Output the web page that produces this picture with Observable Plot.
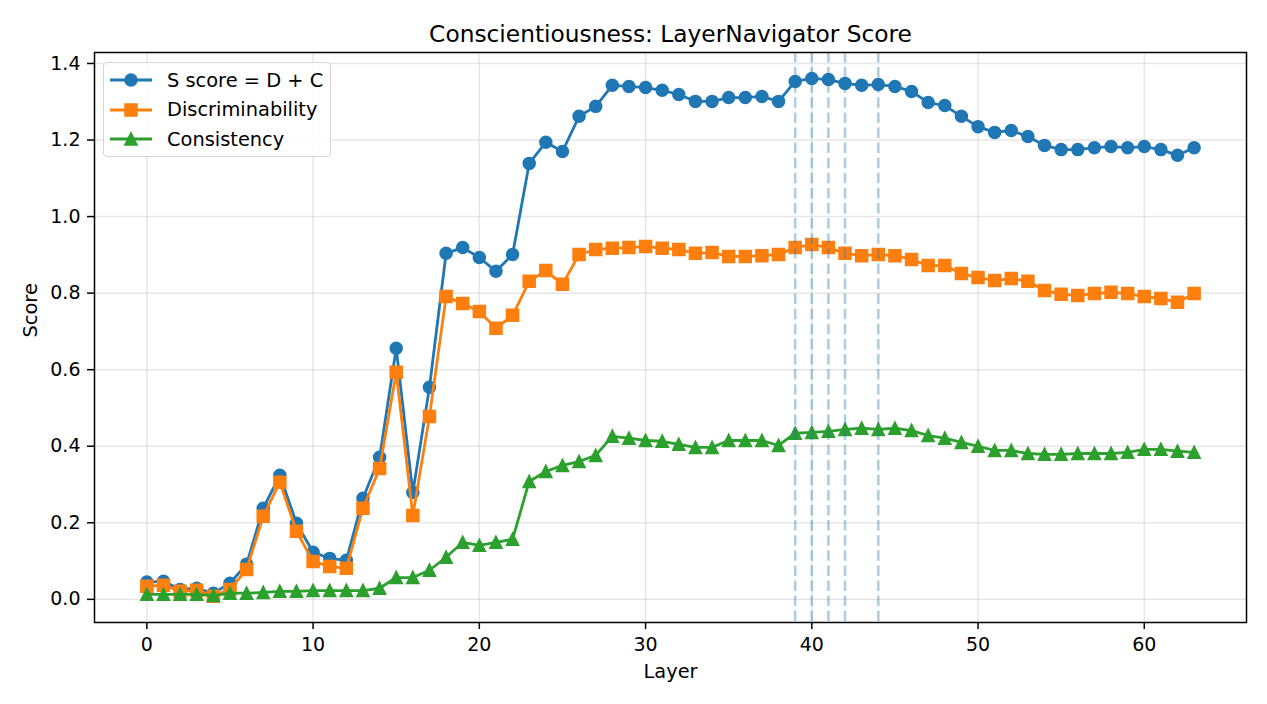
<!DOCTYPE html>
<html>
<head>
<meta charset="utf-8">
<script src="https://cdn.jsdelivr.net/npm/d3@7"></script>
<script src="https://cdn.jsdelivr.net/npm/@observablehq/plot@0.6"></script>
<style>
  html, body { margin: 0; padding: 0; background: #fff; }
  #wrap { position: relative; width: 1267px; height: 704px; font-family: "DejaVu Sans", sans-serif; }
  #legend { position: absolute; left: 103px; top: 62px; width: 228px; height: 95px; box-sizing: border-box;
    border: 1.3px solid #d6d6d6; border-radius: 4px; background: rgba(255,255,255,0.85); }
  .row { position: absolute; left: 0; height: 30px; display: flex; align-items: center; }
  .row svg { margin-left: 5px; }
  .row span { margin-left: 14px; font-size: 19.4px; color: #000; white-space: nowrap; }
</style>
</head>
<body>
<div id="wrap"></div>
<script>
const titleText = "Conscientiousness: LayerNavigator Score";
const xLabel = "Layer";
const yLabel = "Score";
const seriesNames = ["S score = D + C", "Discriminability", "Consistency"];
const seriesColors = ["#1f77b4", "#ff7f0e", "#2ca02c"];
const xTicks = [0, 10, 20, 30, 40, 50, 60];
const yTicks = [0, 0.2, 0.4, 0.6, 0.8, 1.0, 1.2, 1.4];
const highlightLayers = [39, 40, 41, 42, 44];

const layers = d3.range(64);
const sScore = [0.045,0.047,0.026,0.029,0.016,0.042,0.092,0.238,0.324,0.199,
  0.123,0.107,0.102,0.264,0.371,0.656,0.279,0.554,0.904,0.919,
  0.893,0.857,0.901,1.139,1.194,1.170,1.262,1.288,1.343,1.340,
  1.337,1.330,1.319,1.301,1.301,1.311,1.311,1.314,1.301,1.353,
  1.361,1.358,1.348,1.343,1.345,1.340,1.327,1.298,1.290,1.262,
  1.235,1.220,1.225,1.209,1.186,1.175,1.175,1.180,1.183,1.180,
  1.183,1.175,1.160,1.180];
const discr = [0.034,0.037,0.021,0.024,0.008,0.026,0.078,0.217,0.306,0.178,
  0.099,0.086,0.081,0.238,0.342,0.593,0.219,0.478,0.791,0.773,
  0.752,0.708,0.742,0.831,0.859,0.823,0.901,0.914,0.917,0.919,
  0.922,0.917,0.914,0.904,0.906,0.896,0.896,0.898,0.901,0.919,
  0.927,0.919,0.904,0.898,0.901,0.898,0.888,0.872,0.872,0.851,
  0.841,0.833,0.838,0.831,0.807,0.797,0.794,0.799,0.802,0.799,
  0.791,0.786,0.776,0.799];
const consist = [0.013,0.013,0.013,0.013,0.010,0.016,0.016,0.018,0.021,0.021,
  0.023,0.023,0.023,0.023,0.029,0.057,0.057,0.076,0.110,0.149,
  0.141,0.149,0.157,0.308,0.334,0.350,0.360,0.376,0.426,0.421,
  0.415,0.413,0.405,0.397,0.397,0.415,0.415,0.415,0.402,0.434,
  0.436,0.439,0.444,0.447,0.444,0.447,0.441,0.428,0.421,0.410,
  0.400,0.389,0.389,0.381,0.379,0.379,0.381,0.381,0.381,0.384,
  0.392,0.392,0.387,0.384];

// matplotlib-like symbols (size = pi r^2; half-extent = r)
const mplCircle = {draw(ctx, size) { const r = Math.sqrt(size / Math.PI); ctx.moveTo(r, 0); ctx.arc(0, 0, r, 0, 2 * Math.PI); }};
const mplSquare = {draw(ctx, size) { const r = Math.sqrt(size / Math.PI); ctx.rect(-r, -r, 2 * r, 2 * r); }};
const mplTriangle = {draw(ctx, size) { const r = Math.sqrt(size / Math.PI); ctx.moveTo(0, -r); ctx.lineTo(-r, r); ctx.lineTo(r, r); ctx.closePath(); }};
const seriesSymbols = [mplCircle, mplSquare, mplTriangle];
const markerR = 5.8;

const seriesValues = [sScore, discr, consist];
const seriesData = seriesValues.map((vals, i) => layers.map((l, j) => ({layer: l, value: vals[j], series: seriesNames[i]})));

const font = "DejaVu Sans";
const marks = [
  Plot.gridX(xTicks, {stroke: "#b0b0b0", strokeOpacity: 0.3, strokeWidth: 1.5}),
  Plot.gridY(yTicks, {stroke: "#b0b0b0", strokeOpacity: 0.3, strokeWidth: 1.5}),
];
seriesData.forEach((data, i) => {
  marks.push(Plot.line(data, {x: "layer", y: "value", stroke: seriesColors[i], strokeWidth: 2.8}));
  marks.push(Plot.dot(data, {x: "layer", y: "value", fill: seriesColors[i], stroke: seriesColors[i], strokeWidth: 1.9,
    symbol: seriesSymbols[i], r: markerR}));
});
marks.push(Plot.ruleX(highlightLayers, {stroke: "#1f77b4", strokeOpacity: 0.36, strokeWidth: 2.6, strokeDasharray: "10.5,4.6"}));
marks.push(Plot.frame({stroke: "#000", strokeWidth: 1.5}));
marks.push(Plot.axisX(xTicks, {tickSize: 7, tickPadding: 8, fontSize: 19, label: null, stroke: "#000", strokeWidth: 1.5}));
marks.push(Plot.axisY(yTicks, {tickSize: 7, tickPadding: 7, fontSize: 19, label: null, tickFormat: d3.format(".1f"), stroke: "#000", strokeWidth: 1.5}));
marks.push(Plot.text([titleText], {frameAnchor: "top", lineAnchor: "middle", dy: -18, fontSize: 23.3, fill: "#000"}));
marks.push(Plot.text([xLabel], {frameAnchor: "bottom", lineAnchor: "middle", dy: 49, fontSize: 19.4, fill: "#000"}));
marks.push(Plot.text([yLabel], {frameAnchor: "left", dx: -64, rotate: -90, fontSize: 19.4, fill: "#000"}));

const chart = Plot.plot({
  width: 1267,
  height: 704,
  marginLeft: 94,
  marginRight: 21,
  marginTop: 52,
  marginBottom: 82,
  style: {fontFamily: font, background: "#fff", color: "#000"},
  x: {domain: [-3.15, 66.15]},
  y: {domain: [-0.0605, 1.4287]},
  marks
});
const wrap = document.getElementById("wrap");
wrap.appendChild(chart);

// legend
const legend = document.createElement("div");
legend.id = "legend";
seriesNames.forEach((name, i) => {
  const row = document.createElement("div");
  row.className = "row";
  row.style.top = (2 + i * 29.5) + "px";
  const sym = d3.symbol().type(seriesSymbols[i]).size(Math.PI * markerR * markerR)();
  row.innerHTML = `<svg width="44" height="20"><line x1="1" x2="43" y1="10" y2="10" stroke="${seriesColors[i]}" stroke-width="2.8"/>` +
    `<path d="${sym}" transform="translate(22,10)" fill="${seriesColors[i]}" stroke="${seriesColors[i]}" stroke-width="1.9"/></svg><span>${name}</span>`;
  legend.appendChild(row);
});
wrap.appendChild(legend);
</script>
</body>
</html>
